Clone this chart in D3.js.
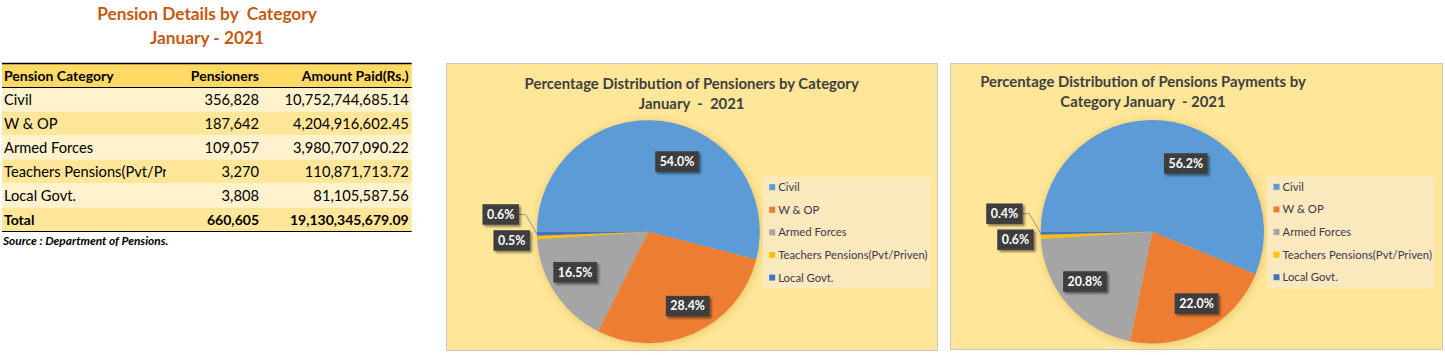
<!DOCTYPE html>
<html>
<head>
<meta charset="utf-8">
<script src="https://cdn.jsdelivr.net/npm/d3@7"></script>
<style>
  html, body { margin: 0; padding: 0; background: #ffffff; }
  svg { display: block; }
  text { font-family: Lato, "Open Sans", "Noto Sans", sans-serif; }
</style>
</head>
<body>
<svg id="chart" width="1445" height="355"></svg>
<script>
// ---------------- DATA ----------------
const pageTitle = ["Pension Details by  Category", "January - 2021"];
const tableHeaders = ["Pension Category", "Pensioners", "Amount Paid(Rs.)"];
const categories = ["Civil", "W & OP", "Armed Forces", "Teachers Pensions(Pvt/Priven)", "Local Govt."];
const pensioners = [356828, 187642, 109057, 3270, 3808];
const amountsPaid = [10752744685.14, 4204916602.45, 3980707090.22, 110871713.72, 81105587.56];
const totalLabel = "Total";
const sourceNote = "Source : Department of Pensions.";
const chart1Title = ["Percentage Distribution of Pensioners by Category", "January  -  2021"];
const chart2Title = ["Percentage Distribution of Pensions Payments by", "Category January  - 2021"];
const sliceColors = ["#5B9BD5", "#ED7D31", "#A5A5A5", "#FFC000", "#4472C4"];

// ---------------- SETUP ----------------
const svg = d3.select("#chart");
const defs = svg.append("defs");

const pat = defs.append("pattern").attr("id", "dots").attr("width", 3).attr("height", 3)
  .attr("patternUnits", "userSpaceOnUse");
pat.append("rect").attr("width", 3).attr("height", 3).attr("fill", "#3b3b3b");
pat.append("rect").attr("x", 1).attr("y", 1).attr("width", 1).attr("height", 1).attr("fill", "#575757");

const pieShadow = defs.append("filter").attr("id", "pieShadow")
  .attr("x", "-20%").attr("y", "-20%").attr("width", "140%").attr("height", "140%");
pieShadow.append("feDropShadow").attr("dx", 1).attr("dy", 1).attr("stdDeviation", 5)
  .attr("flood-color", "#b58900").attr("flood-opacity", 0.35);

const boxShadow = defs.append("filter").attr("id", "boxShadow")
  .attr("x", "-30%").attr("y", "-50%").attr("width", "160%").attr("height", "200%");
boxShadow.append("feDropShadow").attr("dx", 2).attr("dy", 2).attr("stdDeviation", 1.3)
  .attr("flood-color", "#000").attr("flood-opacity", 0.45);

// ---------------- TABLE ----------------
const titleColor = "#C55A11";
const titleCx = 207;
svg.append("text").attr("x", titleCx).attr("y", 19.5).attr("text-anchor", "middle")
  .attr("font-size", 17.3).attr("font-weight", 700).attr("fill", titleColor)
  .style("white-space", "pre").text(pageTitle[0]);
svg.append("text").attr("x", titleCx).attr("y", 43.5).attr("text-anchor", "middle")
  .attr("font-size", 17.3).attr("font-weight", 700).attr("fill", titleColor)
  .text(pageTitle[1]);

const colEdges = [2, 166, 261, 411.7];
const tableTop = 63.5, rowH = 24;
const rows = categories.map((c, i) => ({ name: c, p: pensioners[i], a: amountsPaid[i], bold: false }));
rows.push({ name: totalLabel, p: d3.sum(pensioners), a: d3.sum(amountsPaid), bold: true });

const fmtInt = d3.format(",");
const fmtAmt = d3.format(",.2f");
const rowFills = ["#FFF2CC", "#FFE699"];

defs.append("clipPath").attr("id", "col1clip").append("rect")
  .attr("x", colEdges[0]).attr("y", tableTop).attr("width", colEdges[1] - colEdges[0]).attr("height", rowH * 7);

// header
svg.append("rect").attr("x", colEdges[0]).attr("y", tableTop).attr("width", colEdges[3] - colEdges[0])
  .attr("height", rowH).attr("fill", "#FFD966");
rows.forEach((r, i) => {
  svg.append("rect").attr("x", colEdges[0]).attr("y", tableTop + rowH * (i + 1))
    .attr("width", colEdges[3] - colEdges[0]).attr("height", rowH).attr("fill", rowFills[i % 2]);
});

function cellText(x, y, txt, anchor, bold, clip) {
  const t = svg.append("text").attr("x", x).attr("y", y).attr("text-anchor", anchor)
    .attr("font-size", bold ? 14 : 14.7).attr("font-weight", bold ? 700 : 400).attr("fill", "#000").text(txt);
  if (clip) t.attr("clip-path", "url(#col1clip)");
  return t;
}
const base = rowH / 2 + 5;
cellText(colEdges[0] + 2, tableTop + base, tableHeaders[0], "start", true);
cellText(colEdges[2] - 2, tableTop + base, tableHeaders[1], "end", true);
cellText(colEdges[3] - 3, tableTop + base, tableHeaders[2], "end", true);
rows.forEach((r, i) => {
  const y = tableTop + rowH * (i + 1) + base;
  cellText(colEdges[0] + 2, y, r.name, "start", r.bold, true);
  cellText(colEdges[2] - 2, y, fmtInt(r.p), "end", r.bold);
  cellText(colEdges[3] - 3, y, fmtAmt(r.a), "end", r.bold);
});
// borders
svg.append("line").attr("x1", colEdges[0]).attr("x2", colEdges[3]).attr("y1", tableTop).attr("y2", tableTop)
  .attr("stroke", "#000").attr("stroke-width", 1.4);
svg.append("line").attr("x1", colEdges[0]).attr("x2", colEdges[3]).attr("y1", tableTop + rowH).attr("y2", tableTop + rowH)
  .attr("stroke", "#000").attr("stroke-width", 1);
svg.append("line").attr("x1", colEdges[0]).attr("x2", colEdges[3]).attr("y1", tableTop + rowH * 7).attr("y2", tableTop + rowH * 7)
  .attr("stroke", "#000").attr("stroke-width", 1.2);

svg.append("text").attr("x", 3).attr("y", 245).attr("font-size", 11.9).attr("font-weight", 700)
  .attr("font-style", "italic").attr("fill", "#000").text(sourceNote);

// ---------------- PIE CHARTS ----------------
const fmtPct = d3.format(".1%");
const labelLayout = { nudgeDeg: [15, -3.5, 4.6], radiusFactor: [0.68, 0.755, 0.75] };

function drawPie(cfg) {
  const g = svg.append("g");
  g.append("rect").attr("x", cfg.frame[0]).attr("y", cfg.frame[1]).attr("width", cfg.frame[2]).attr("height", cfg.frame[3])
    .attr("fill", "#FFE699").attr("stroke", "#C9C9C9").attr("stroke-width", 1);

  cfg.title.forEach((line, i) => {
    g.append("text").attr("x", cfg.titleX).attr("y", cfg.titleY[i]).attr("text-anchor", "middle")
      .attr("font-size", 14.9).attr("font-weight", 700).attr("fill", "#404040")
      .style("white-space", "pre").text(line);
  });

  const total = d3.sum(cfg.values);
  const pie = d3.pie().sort(null).value(d => d)
    .startAngle(Math.PI * 1.5).endAngle(Math.PI * 3.5);
  const arcs = pie(cfg.values);
  const arc = d3.arc().innerRadius(0).outerRadius(cfg.r);
  const pg = g.append("g").attr("transform", `translate(${cfg.cx},${cfg.cy})`);
  const slices = pg.append("g").attr("filter", "url(#pieShadow)");
  slices.selectAll("path").data(arcs).join("path")
    .attr("d", arc).attr("fill", (d, i) => sliceColors[i]);

  // legend
  const lg = g.append("g");
  lg.append("rect").attr("x", cfg.legend[0]).attr("y", cfg.legend[1]).attr("width", cfg.legend[2]).attr("height", cfg.legend[3])
    .attr("fill", "#FAE9BC");
  categories.forEach((c, i) => {
    const y = cfg.legend[1] + 10.5 + i * 22.6;
    lg.append("rect").attr("x", cfg.legend[0] + 6.5).attr("y", y - 3).attr("width", 6).attr("height", 6)
      .attr("fill", sliceColors[i]);
    lg.append("text").attr("x", cfg.legend[0] + 15.5).attr("y", y + 4).attr("font-size", 11.3)
      .attr("fill", "#3f3850").text(c);
  });

  // labels
  const lblG = pg.append("g");
  function box(x, y, txt) {
    const bg = lblG.append("g");
    const r = bg.append("rect");
    const t = bg.append("text").attr("x", x).attr("y", y + 4.4).attr("text-anchor", "middle")
      .attr("font-size", 12.4).attr("font-weight", 700).attr("fill", "#fff").text(txt);
    const w = t.node().getComputedTextLength() + 9;
    r.attr("x", x - w / 2).attr("y", y - 10.25).attr("width", w).attr("height", 20.5)
      .attr("fill", "url(#dots)").attr("filter", "url(#boxShadow)");
    return w;
  }
  function measure(txt) {
    const tmp = lblG.append("text").attr("font-size", 12.4).attr("font-weight", 700).text(txt);
    const w = tmp.node().getComputedTextLength() + 9; tmp.remove();
    return w;
  }
  const small = [];
  arcs.forEach((a, i) => {
    const p = a.value / total;
    const mid = (a.startAngle + a.endAngle) / 2;
    if (p >= 0.02) {
      const ang = mid + labelLayout.nudgeDeg[i] * Math.PI / 180;
      const rr = cfg.r * labelLayout.radiusFactor[i];
      box(Math.sin(ang) * rr, -Math.cos(ang) * rr, fmtPct(p));
    } else {
      small.push({ i, p, mid });
    }
  });
  // small slices: stacked outside on the left
  small.forEach((s, k) => {
    const ex = Math.sin(s.mid) * cfg.r, ey = -Math.cos(s.mid) * cfg.r;
    const txt = fmtPct(s.p);
    const w = measure(txt);
    if (k === 0) {
      box(ex - 7 - w / 2, ey + 3, txt);
      s.right = ex - 7; s.y = ey + 3;
    } else {
      const prev = small[k - 1];
      const right = prev.right - 11, y = prev.y - 26;
      lblG.insert("polyline", ":first-child")
        .attr("points", `${right},${y} ${right + 6.6},${y} ${ex},${ey}`)
        .attr("fill", "none").attr("stroke", "#8c8c8c").attr("stroke-width", 0.9);
      box(right - w / 2, y, txt);
      s.right = right; s.y = y;
    }
  });
}

drawPie({
  frame: [446.5, 63.5, 491, 287], title: chart1Title, titleX: 691.7, titleY: [89, 109],
  values: pensioners, cx: 648.3, cy: 231.7, r: 111.5,
  legend: [762.7, 176.7, 168.3, 111.8]
});
drawPie({
  frame: [950.5, 63.5, 492, 286], title: chart2Title, titleX: 1143, titleY: [87, 107],
  values: amountsPaid, cx: 1152.3, cy: 231.7, r: 111.7,
  legend: [1267, 176.3, 167.3, 112.4]
});
</script>
</body>
</html>
